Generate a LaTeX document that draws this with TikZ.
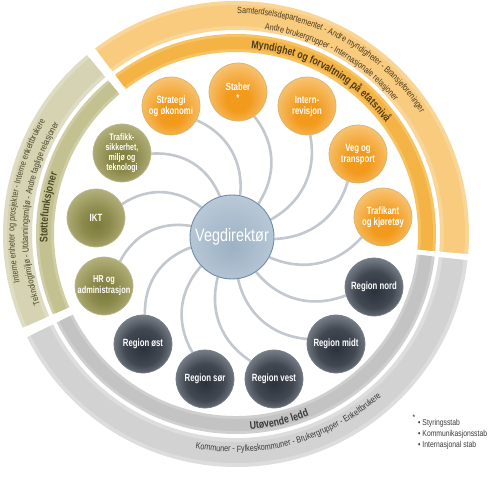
\documentclass[tikz,border=0pt]{standalone}
\usepackage{fontspec}
\setmainfont{Liberation Sans}[FakeStretch=0.8]
\newfontfamily\nodefont{Liberation Sans}[FakeStretch=0.74]
\usetikzlibrary{decorations.text,calc,backgrounds}
\definecolor{orA}{HTML}{F9D596}
\definecolor{orA2}{HTML}{F8CB7E}
\definecolor{orB}{HTML}{F7C261}
\definecolor{orB2}{HTML}{F4B445}
\definecolor{olA}{HTML}{DEDCC3}
\definecolor{olA2}{HTML}{D5D3B2}
\definecolor{olB}{HTML}{CFCDA5}
\definecolor{olB2}{HTML}{C3C190}
\definecolor{grA}{HTML}{DDDDDD}
\definecolor{grA2}{HTML}{D2D2D2}
\definecolor{grB}{HTML}{CFCFCF}
\definecolor{grB2}{HTML}{C3C3C3}
\definecolor{ortxt}{HTML}{4A3A1E}
\definecolor{oltxt}{HTML}{4A4828}
\definecolor{grtxt}{HTML}{3A3A3A}
\definecolor{linkc}{HTML}{C2C8CE}
\definecolor{orI}{HTML}{F29A1C}
\definecolor{orM}{HTML}{F8C77A}
\definecolor{orO}{HTML}{FDF1DC}
\definecolor{orBd}{HTML}{D8B46E}
\definecolor{grI}{HTML}{2C323B}
\definecolor{grI2}{HTML}{414852}
\definecolor{grM}{HTML}{99A0A8}
\definecolor{grO}{HTML}{E6E9EC}
\definecolor{grBd}{HTML}{767D86}
\definecolor{olI}{HTML}{7E7C3C}
\definecolor{olI2}{HTML}{8C8A4C}
\definecolor{olM}{HTML}{BDBB88}
\definecolor{olO}{HTML}{EFEEDE}
\definecolor{olBd}{HTML}{B9B78E}
\definecolor{vdI}{HTML}{9CB1C4}
\definecolor{vdM}{HTML}{B7C7D6}
\definecolor{vdO}{HTML}{E4EBF1}
\definecolor{vdBd}{HTML}{6F8CA8}
\pgfdeclareradialshading{orball}{\pgfpoint{0bp}{-8bp}}{color(0bp)=(orI); color(10bp)=(orI); color(30bp)=(orM); color(50bp)=(orO)}
\pgfdeclareradialshading{grball}{\pgfpoint{0bp}{-4bp}}{color(0bp)=(grI); color(16bp)=(grI2); color(34bp)=(grM); color(50bp)=(grO)}
\pgfdeclareradialshading{olball}{\pgfpoint{0bp}{-6bp}}{color(0bp)=(olI); color(12bp)=(olI2); color(32bp)=(olM); color(50bp)=(olO)}
\pgfdeclareradialshading{vdball}{\pgfpoint{0bp}{-6bp}}{color(0bp)=(vdI); color(26bp)=(vdM); color(50bp)=(vdO)}
\newcommand\bandseg[5]{\fill[#5] ($(C)+(#1:#3pt)$) arc[start angle=#1,end angle=#2,radius=#3pt] -- ($(C)+(#2:#4pt)$) arc[start angle=#2,end angle=#1,radius=#4pt] -- cycle;}
\newcommand\arctext[5]{\path[decorate,decoration={text along path,text align=center,text={#5}}] ($(C)+(#1:#3pt)$) arc[start angle=#1,end angle=#2,radius=#3pt];}
\tikzset{
  ball/.style={circle,minimum size=58pt,inner sep=0pt,align=center,text=white,
    font=\nodefont\bfseries\fontsize{10.5}{11}\selectfont,line width=0.7pt},
  orn/.style={ball,shading=orball,draw=orBd},
  oln/.style={ball,shading=olball,draw=olBd},
  grn/.style={ball,shading=grball,draw=grBd},
  vdn/.style={circle,minimum size=84pt,inner sep=0pt,text=white,
    font=\fontsize{18}{20}\selectfont,shading=vdball,draw=vdBd,line width=0.9pt},
  link/.style={draw=linkc,line width=2.6pt},
  legend/.style={inner sep=0pt,text=grtxt,font=\fontsize{8.5}{10}\selectfont}
}
\begin{document}
\begin{tikzpicture}[x=1pt,y=1pt]
\useasboundingbox (0,0) rectangle (500,477);
\clip (0,0) rectangle (500,477);
\coordinate (C) at (236,243);
\begin{scope}[on background layer]
\fill[white] (0,0) rectangle (500,477);
% orange segment
\bandseg{-4.9}{127.2}{204}{233}{orA}
\bandseg{-4.9}{127.2}{208}{229}{orA2}
\bandseg{-4.9}{127.2}{182}{200}{orB}
\bandseg{-4.9}{127.2}{185}{197}{orB2}
% olive segment
\bandseg{129.8}{203.7}{204}{233}{olA}
\bandseg{129.8}{203.7}{208}{229}{olA2}
\bandseg{129.8}{203.7}{182}{200}{olB}
\bandseg{129.8}{203.7}{185}{197}{olB2}
% gray segment
\bandseg{206.3}{353.5}{204}{233}{grA}
\bandseg{206.3}{353.5}{208}{229}{grA2}
\bandseg{206.3}{353.5}{182}{200}{grB}
\bandseg{206.3}{353.5}{185}{197}{grB2}
\end{scope}
% ring texts
\arctext{122}{1}{220.5}{}{|\fontsize{9}{9}\selectfont\color{ortxt}|Samferdselsdepartementet - Andre myndigheter - Bransjeforeninger}
\arctext{121}{1}{206.5}{}{|\fontsize{9}{9}\selectfont\color{ortxt}|Andre brukergrupper - Internasjonale relasjoner}
\arctext{121}{1}{186.5}{}{|\fontsize{11}{11}\selectfont\bfseries\color{ortxt}|Myndighet og forvaltning på etatsnivå}
\arctext{215}{127}{221.5}{}{|\fontsize{9}{9}\selectfont\color{oltxt}|Interne enheter og prosjekter - Interne enkeltbrukere}
\arctext{218}{130}{208}{}{|\fontsize{9}{9}\selectfont\color{oltxt}|Teknologimiljø - Utdanningsmiljø - Andre faglige relasjoner}
\arctext{215}{129}{188.5}{}{|\fontsize{11}{11}\selectfont\bfseries\color{oltxt}|Støttefunksjoner}
\arctext{-137}{-17}{196}{}{|\fontsize{11}{11}\selectfont\bfseries\color{grtxt}|Utøvende ledd}
\arctext{-135}{-14}{218}{}{|\fontsize{9}{9}\selectfont\color{grtxt}|Kommuner - Fylkeskommuner - Brukergrupper - Enkeltbrukere}
% nodes
\node[vdn] (vd) at (232,240) {Vegdirektør};
\node[orn] (strat) at (171,371) {Strategi\\og økonomi};
\node[orn] (stab) at (238,385) {Staber\\*};
\node[orn] (intern) at (307,371) {Intern-\\revisjon};
\node[orn] (veg) at (358,323) {Veg og\\transport};
\node[orn] (trafik) at (383,260) {Trafikant\\og kjøretøy};
\node[grn] (nord) at (374,190) {Region nord};
\node[grn] (midt) at (336,133) {Region midt};
\node[grn] (vest) at (274,98) {Region vest};
\node[grn] (sor) at (205,98) {Region sør};
\node[grn] (ost) at (143,133) {Region øst};
\node[oln,font=\nodefont\bfseries\fontsize{10}{11}\selectfont] (hr) at (104,191) {HR og\\administrasjon};
\node[oln] (ikt) at (96,259) {IKT};
\node[oln,font=\nodefont\bfseries\fontsize{9.5}{10}\selectfont] (tsm) at (122,324) {Trafikk-\\sikkerhet,\\miljø og\\teknologi};
\begin{scope}[on background layer]
\foreach \n in {strat,stab,intern,veg,trafik,nord,midt,vest,sor,ost,hr,ikt,tsm}
  \draw[link] (\n) to[bend left=36] (vd);
\end{scope}
% legend
\node[legend] (ast) at (414,59) {*};
\node[legend,anchor=base west] (lg1) at (418,52) {\textbullet\ Styringsstab};
\node[legend,anchor=base west] (lg2) at (418,41) {\textbullet\ Kommunikasjonsstab};
\node[legend,anchor=base west] (lg3) at (418,30) {\textbullet\ Internasjonal stab};
\end{tikzpicture}
\end{document}
